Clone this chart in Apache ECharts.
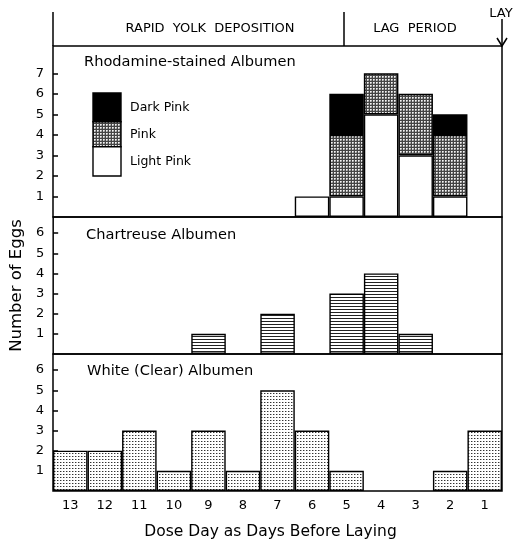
<!DOCTYPE html>
<html>
<head>
<meta charset="utf-8">
<script src="https://cdn.jsdelivr.net/npm/echarts@6/dist/echarts.min.js"></script>
<style>html,body{margin:0;padding:0;background:#fff;}#c{width:519px;height:541px;}</style>
</head>
<body>
<div id="c"></div>
<script>
// ---- data ----
const days = ['13','12','11','10','9','8','7','6','5','4','3','2','1'];
const lightPink = [null,null,null,null,null,null,null,1,1,5,3,1,null];
const pink      = [null,null,null,null,null,null,null,null,3,2,3,3,null];
const darkPink  = [null,null,null,null,null,null,null,null,2,null,null,1,null];
const chartreuse= [null,null,null,null,1,null,2,null,3,4,1,null,null];
const whiteAlb  = [2,2,3,1,3,1,5,3,1,null,null,1,3];
const ticksTop = [1,2,3,4,5,6,7];
const ticksMid = [1,2,3,4,5,6];
const ticksBot = [1,2,3,4,5,6];
const legendNames = ['Dark Pink','Pink','Light Pink'];

function tile(w,h,draw){const c=document.createElement('canvas');c.width=w;c.height=h;const g=c.getContext('2d');draw(g);return c;}
const pinkPat = {image: tile(3,3,g=>{g.fillStyle='#444';g.fillRect(0,0,3,3);g.fillStyle='#f4f4f4';g.fillRect(1,1,1,1);g.fillStyle='#c4c4c4';g.fillRect(2,1,1,1);g.fillRect(1,2,1,1);g.fillStyle='#8a8a8a';g.fillRect(2,2,1,1);}), repeat:'repeat'};
const hatchPat = {image: tile(4,3,g=>{g.fillStyle='#fff';g.fillRect(0,0,4,3);g.fillStyle='#222';g.fillRect(0,0,4,1);}), repeat:'repeat'};
const dotPat = {image: tile(3,3,g=>{g.fillStyle='#fff';g.fillRect(0,0,3,3);g.fillStyle='#333';g.fillRect(0,0,1,1);g.fillStyle='#aaa';g.fillRect(1,0,1,1);}), repeat:'repeat'};
const legendFills = ['#000', pinkPat, '#fff'];

const FONT = 'DejaVu Sans';
const chart = echarts.init(document.getElementById('c'), null, {renderer:'canvas'});
const L = 53, R = 17;
const grids = [
  {left:L, right:R, top:46, height:171},
  {left:L, right:R, top:217, height:137},
  {left:L, right:R, top:354, height:138}
].map(g=>Object.assign(g,{show:true, borderColor:'#000', borderWidth:1.5, containLabel:false}));

function xAx(i, showLabels){
  return {type:'category', data:days, gridIndex:i, boundaryGap:true,
    axisLine:{show:false}, axisTick:{show:false},
    axisLabel:{show:showLabels, color:'#000', fontFamily:FONT, fontSize:13, margin:8},
    name: showLabels ? 'Dose Day as Days Before Laying' : '', nameLocation:'middle', nameGap:33,
    nameTextStyle:{color:'#000', fontFamily:FONT, fontSize:15.5, padding:[0,14,0,0]}};
}
function yAx(i, max, ticks, name){
  return {type:'value', gridIndex:i, min:0, max:max, splitLine:{show:false},
    axisLine:{show:false},
    axisTick:{show:true, inside:true, length:5, customValues:ticks, lineStyle:{color:'#000', width:1.5}},
    axisLabel:{color:'#000', fontFamily:FONT, fontSize:13, margin:9, customValues:ticks},
    name:name||'', nameLocation:'middle', nameGap:26, nameRotate:90,
    nameTextStyle:{color:'#000', fontFamily:FONT, fontSize:16.5}};
}
const border = {borderColor:'#000', borderWidth:1.4};

// legend drawn as one stacked key box
const legendGraphics = [];
const segTop = [93, 121.7, 146.7], segH = [28.7, 25, 29.3];
legendNames.forEach((n,i)=>{
  legendGraphics.push({type:'rect', shape:{x:93, y:segTop[i], width:28, height:segH[i]}, style:{fill:legendFills[i], stroke:'#000', lineWidth:1.4}});
  legendGraphics.push({type:'text', x:130, y:segTop[i]+segH[i]/2+0.5, style:{text:n, fill:'#000', font:'12.5px "DejaVu Sans"', verticalAlign:'middle'}});
});

const option = {
  animation:false,
  backgroundColor:'#fff',
  grid: grids,
  xAxis:[xAx(0,false), xAx(1,false), xAx(2,true)],
  yAxis:[yAx(0,8.33,ticksTop), yAx(1,6.8,ticksMid,'Number of Eggs'), yAx(2,6.8,ticksBot)],
  title:[
    {text:'Rhodamine-stained Albumen', left:84, top:55},
    {text:'Chartreuse Albumen', left:86, top:228},
    {text:'White (Clear) Albumen', left:87, top:364}
  ].map(t=>Object.assign(t,{padding:0, textStyle:{color:'#000', fontFamily:FONT, fontSize:14.6, fontWeight:'normal'}})),
  series:[
    {name:'Light Pink', type:'bar', stack:'r', xAxisIndex:0, yAxisIndex:0, data:lightPink, barCategoryGap:'0%', itemStyle:Object.assign({color:'#fff'},border)},
    {name:'Pink', type:'bar', stack:'r', xAxisIndex:0, yAxisIndex:0, data:pink, barCategoryGap:'0%', itemStyle:Object.assign({color:pinkPat},border)},
    {name:'Dark Pink', type:'bar', stack:'r', xAxisIndex:0, yAxisIndex:0, data:darkPink, barCategoryGap:'0%', itemStyle:Object.assign({color:'#000'},border)},
    {name:'Chartreuse', type:'bar', xAxisIndex:1, yAxisIndex:1, data:chartreuse, barCategoryGap:'0%', itemStyle:Object.assign({color:hatchPat},border)},
    {name:'White', type:'bar', xAxisIndex:2, yAxisIndex:2, data:whiteAlb, barCategoryGap:'0%', itemStyle:Object.assign({color:dotPat},border)}
  ],
  graphic:[
    {type:'line', shape:{x1:L, y1:12, x2:L, y2:46}, style:{stroke:'#000', lineWidth:1.5}},
    {type:'line', shape:{x1:344, y1:12, x2:344, y2:46}, style:{stroke:'#000', lineWidth:1.5}},
    {type:'line', shape:{x1:502, y1:19, x2:502, y2:46}, style:{stroke:'#000', lineWidth:1.5}},
    {type:'polyline', shape:{points:[[497,38],[502,46],[507,38]]}, style:{stroke:'#000', lineWidth:1.5, fill:null}},
    {type:'text', x:210, y:29, style:{text:'RAPID  YOLK  DEPOSITION', fill:'#000', font:'13px "DejaVu Sans"', align:'center', verticalAlign:'middle'}},
    {type:'text', x:415, y:29, style:{text:'LAG  PERIOD', fill:'#000', font:'13px "DejaVu Sans"', align:'center', verticalAlign:'middle'}},
    {type:'text', x:501, y:14, style:{text:'LAY', fill:'#000', font:'13px "DejaVu Sans"', align:'center', verticalAlign:'middle'}}
  ].concat(legendGraphics)
};
chart.setOption(option);
</script>
</body>
</html>
